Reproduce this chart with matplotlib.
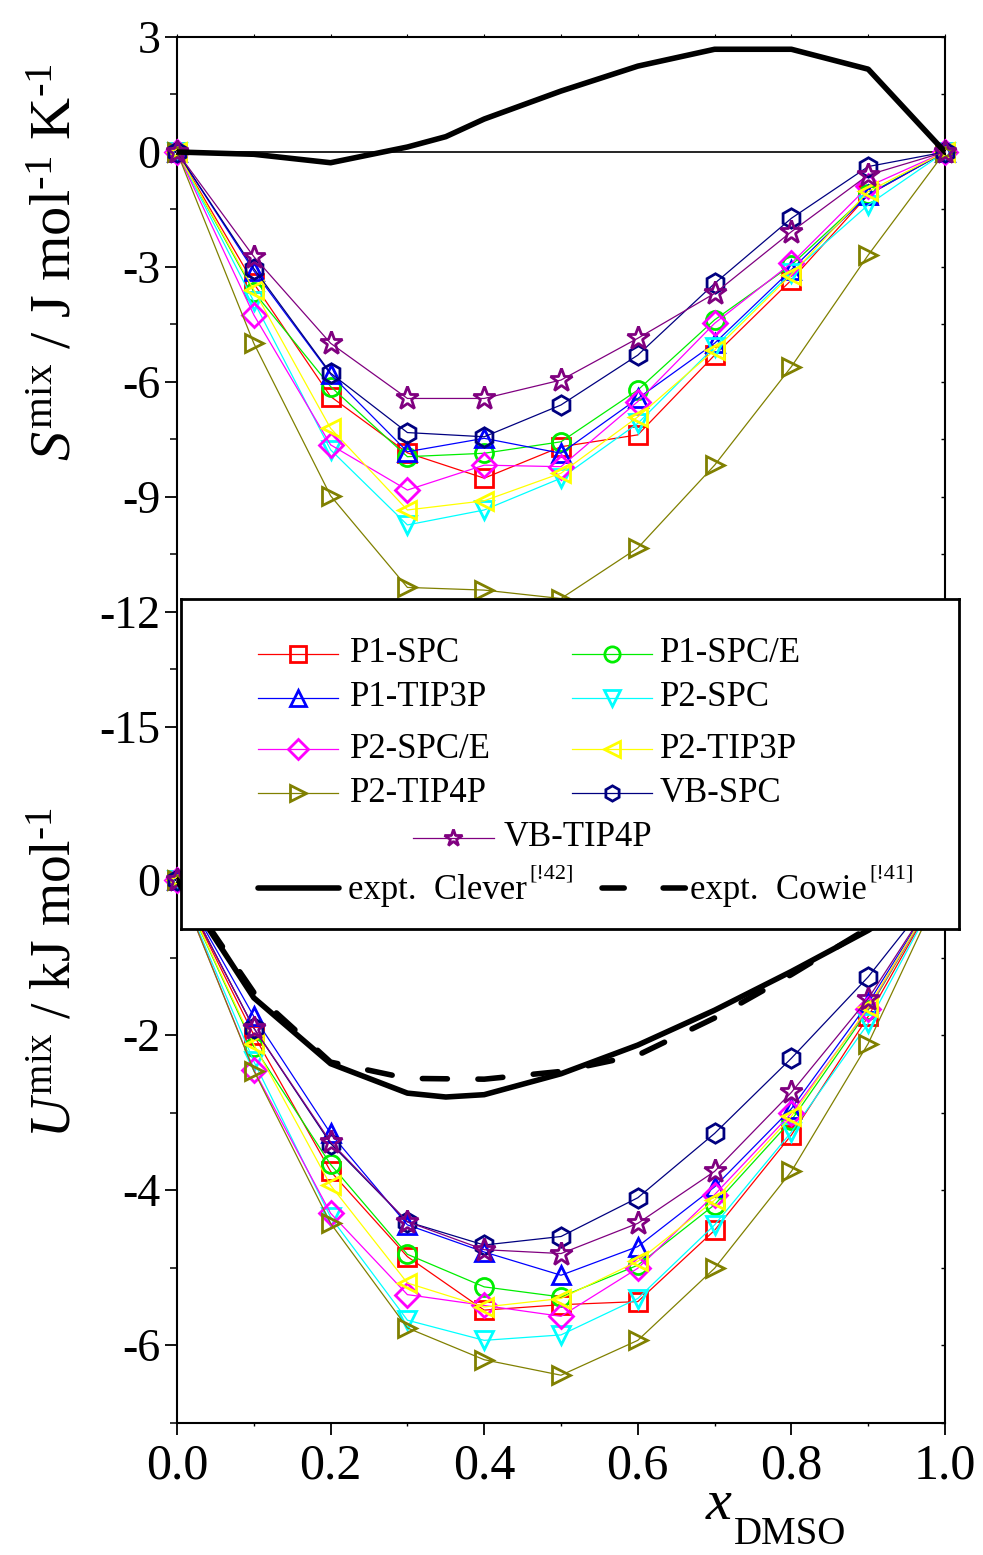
import matplotlib
matplotlib.use('Agg')
import matplotlib.pyplot as plt
from matplotlib.lines import Line2D

plt.rcParams['font.family'] = ['Liberation Serif', 'DejaVu Serif']
plt.rcParams['mathtext.fontset'] = 'custom'
plt.rcParams['mathtext.rm'] = 'Liberation Serif'
plt.rcParams['mathtext.it'] = 'Liberation Serif:italic'
plt.rcParams['mathtext.bf'] = 'Liberation Serif:bold'

# ---------------- data ----------------
x_dmso = [0.0, 0.1, 0.2, 0.3, 0.4, 0.5, 0.6, 0.7, 0.8, 0.9, 1.0]

series_names = ['P1-SPC', 'P1-SPC/E', 'P1-TIP3P', 'P2-SPC', 'P2-SPC/E',
                'P2-TIP3P', 'P2-TIP4P', 'VB-SPC', 'VB-TIP4P']
series_colors = ['#ff0000', '#00ee00', '#0000ff', '#00ffff', '#ff00ff',
                 '#ffff00', '#808000', '#000080', '#800080']
series_markers = ['s', 'o', '^', 'v', 'D', '<', '>', 'h', '*']

# S^mix / J mol^-1 K^-1
S_P1_SPC   = [0, -3.43, -6.38, -7.85, -8.51, -7.69, -7.38, -5.30, -3.34, -1.12, 0]
S_P1_SPCE  = [0, -3.65, -6.12, -7.95, -7.86, -7.56, -6.21, -4.38, -2.95, -1.10, 0]
S_P1_TIP3P = [0, -3.10, -5.80, -7.82, -7.47, -7.86, -6.43, -4.99, -3.07, -1.12, 0]
S_P2_SPC   = [0, -3.90, -7.77, -9.73, -9.34, -8.51, -7.08, -5.08, -3.15, -1.38, 0]
S_P2_SPCE  = [0, -4.25, -7.64, -8.82, -8.17, -8.21, -6.51, -4.47, -2.90, -0.90, 0]
S_P2_TIP3P = [0, -3.60, -7.21, -9.34, -9.10, -8.38, -6.91, -5.17, -3.20, -1.03, 0]
S_P2_TIP4P = [0, -4.99, -8.97, -11.36, -11.43, -11.65, -10.33, -8.17, -5.60, -2.69, 0]
S_VB_SPC   = [0, -3.04, -5.77, -7.32, -7.43, -6.60, -5.30, -3.43, -1.73, -0.38, 0]
S_VB_TIP4P = [0, -2.73, -4.99, -6.43, -6.43, -5.95, -4.86, -3.69, -2.08, -0.60, 0]

# U^mix / kJ mol^-1
U_P1_SPC   = [0, -2.00, -3.76, -4.86, -5.55, -5.48, -5.44, -4.52, -3.29, -1.76, 0]
U_P1_SPCE  = [0, -2.15, -3.67, -4.83, -5.25, -5.38, -4.97, -4.19, -3.10, -1.68, 0]
U_P1_TIP3P = [0, -1.76, -3.27, -4.45, -4.80, -5.10, -4.73, -3.96, -2.95, -1.59, 0]
U_P2_SPC   = [0, -2.34, -4.35, -5.68, -5.94, -5.87, -5.40, -4.45, -3.25, -1.85, 0]
U_P2_SPCE  = [0, -2.45, -4.30, -5.35, -5.49, -5.63, -5.01, -4.06, -3.01, -1.66, 0]
U_P2_TIP3P = [0, -2.12, -3.94, -5.20, -5.51, -5.40, -4.92, -4.13, -3.05, -1.64, 0]
U_P2_TIP4P = [0, -2.46, -4.43, -5.78, -6.19, -6.39, -5.94, -5.01, -3.76, -2.11, 0]
U_VB_SPC   = [0, -1.91, -3.40, -4.41, -4.71, -4.60, -4.10, -3.27, -2.30, -1.25, 0]
U_VB_TIP4P = [0, -1.91, -3.38, -4.41, -4.77, -4.82, -4.43, -3.76, -2.74, -1.53, 0]

S_series = [S_P1_SPC, S_P1_SPCE, S_P1_TIP3P, S_P2_SPC, S_P2_SPCE,
            S_P2_TIP3P, S_P2_TIP4P, S_VB_SPC, S_VB_TIP4P]
U_series = [U_P1_SPC, U_P1_SPCE, U_P1_TIP3P, U_P2_SPC, U_P2_SPCE,
            U_P2_TIP3P, U_P2_TIP4P, U_VB_SPC, U_VB_TIP4P]

# experiments
x_clever_S = [0.0, 0.1, 0.2, 0.3, 0.35, 0.4, 0.5, 0.6, 0.7, 0.8, 0.9, 1.0]
S_clever   = [0.0, -0.06, -0.28, 0.13, 0.40, 0.86, 1.59, 2.24, 2.68, 2.68, 2.16, 0.0]
x_clever_U = [0.0, 0.1, 0.2, 0.3, 0.35, 0.4, 0.5, 0.6, 0.7, 0.8, 0.9, 1.0]
U_clever   = [0.0, -1.52, -2.37, -2.75, -2.80, -2.77, -2.50, -2.13, -1.68, -1.18, -0.65, 0.0]
x_cowie_U  = [0.0, 0.1, 0.2, 0.3, 0.4, 0.5, 0.6, 0.7, 0.8, 0.9, 1.0]
U_cowie    = [0.0, -1.45, -2.35, -2.56, -2.57, -2.47, -2.26, -1.78, -1.22, -0.62, 0.0]

S_ticks = [3, 0, -3, -6, -9, -12, -15]
S_minor = [1.5, -1.5, -4.5, -7.5, -10.5, -13.5]
U_ticks = [0, -2, -4, -6]
U_minor = [-1, -3, -5, -7]
x_ticks = [0.0, 0.2, 0.4, 0.6, 0.8, 1.0]
x_minor = [0.1, 0.3, 0.5, 0.7, 0.9]

# ---------------- figure ----------------
W, H = 983, 1555
fig = plt.figure(figsize=(W / 100, H / 100), dpi=100)
L, R, T, B = 177, 945, 37, 1423
rect = [L / W, 1 - B / H, (R - L) / W, (B - T) / H]

ax1 = fig.add_axes(rect)
ax2 = fig.add_axes(rect, sharex=ax1)
ax2.patch.set_visible(False)

s_ppu = 38.33
ax1.set_ylim(3 - (B - T) / s_ppu, 3)
u_ppu = 77.5
ax2.set_ylim(-(B - 880) / u_ppu, (880 - T) / u_ppu)
ax1.set_xlim(0, 1)

ms = 13
for name, c, m, s in zip(series_names, series_colors, series_markers, S_series):
    msz = ms + 4 if m == '*' else (ms - 1 if m == 'D' else (ms + 1 if m == 'h' else ms))
    ax1.plot(x_dmso, s, color=c, lw=0.9, marker=m, ms=msz, mfc='none',
             mec=c, mew=2.0, clip_on=False, zorder=3)
for name, c, m, u in zip(series_names, series_colors, series_markers, U_series):
    msz = ms + 4 if m == '*' else (ms - 1 if m == 'D' else (ms + 1 if m == 'h' else ms))
    ax2.plot(x_dmso, u, color=c, lw=0.9, marker=m, ms=msz, mfc='none',
             mec=c, mew=2.0, clip_on=False, zorder=3)

ax1.axhline(0, color='black', lw=1.2, zorder=2)
ax1.plot(x_clever_S, S_clever, color='black', lw=4.0, solid_capstyle='round',
         solid_joinstyle='round', zorder=4)
ax2.plot(x_clever_U, U_clever, color='black', lw=4.0, solid_capstyle='round',
         solid_joinstyle='round', zorder=4)
ax2.plot(x_cowie_U, U_cowie, color='black', lw=4.0, dashes=(4.5, 5.5),
         dash_capstyle='round', zorder=4)

for sp in ax1.spines.values():
    sp.set_linewidth(1.5)
for sp in ax2.spines.values():
    sp.set_visible(False)

ax1.set_yticks(S_ticks)
ax1.set_yticks(S_minor, minor=True)
ax1.set_yticklabels([str(t) for t in S_ticks])
ax2.set_yticks(U_ticks)
ax2.set_yticks(U_minor, minor=True)
ax2.set_yticklabels([str(t) for t in U_ticks])
ax1.set_xticks(x_ticks)
ax1.set_xticks(x_minor, minor=True)
ax1.set_xticklabels(['%.1f' % t for t in x_ticks])

for ax in (ax1, ax2):
    ax.tick_params(axis='y', which='major', direction='out', length=9, width=1.3,
                   labelsize=33, pad=3, left=True, right=False)
    ax.tick_params(axis='y', which='minor', direction='out', length=5, width=1.1,
                   left=True, right=False)
ax1.tick_params(axis='x', which='major', direction='out', length=8.5, width=1.3,
                labelsize=36, pad=6, top=False)
ax1.tick_params(axis='x', which='minor', direction='out', length=2.5, width=1.0, top=False)
ax2.tick_params(axis='x', which='both', bottom=False, labelbottom=False)

r1 = ax1.secondary_yaxis('right')
r1.set_yticks(S_ticks + S_minor)
r1.tick_params(direction='in', length=3, width=1.0, labelright=False)
r1.spines['right'].set_visible(False)
r2 = ax2.secondary_yaxis('right')
r2.set_yticks(U_ticks + U_minor)
r2.tick_params(direction='in', length=3, width=1.0, labelright=False)
r2.spines['right'].set_visible(False)
t1 = ax1.secondary_xaxis('top')
t1.set_xticks(x_ticks + x_minor)
t1.tick_params(direction='out', length=2.5, width=0.8, labeltop=False)
t1.spines['top'].set_visible(False)

# axis labels (hyphen superscripts as in the original)
hy = '\u2010'
fig.text(57 / W, 1 - 262 / H,
         r'$S^{\rm mix}$ / J mol$^{' + hy + r'1}$ K$^{' + hy + r'1}$',
         rotation=90, ha='center', va='center', fontsize=42)
fig.text(57 / W, 1 - 973 / H, r'$U^{\rm mix}$ / kJ mol$^{' + hy + r'1}$',
         rotation=90, ha='center', va='center', fontsize=40)
fig.text(719 / W, 1 - 1505 / H, 'x', style='italic', ha='center', va='center',
         fontsize=42)
fig.text(734 / W, 1 - 1535 / H, 'DMSO', ha='left', va='center', fontsize=28)

# ---------------- legend box ----------------
lx0, ly0, lx1, ly1 = 181, 599, 959, 929
axl = fig.add_axes([lx0 / W, 1 - ly1 / H, (lx1 - lx0) / W, (ly1 - ly0) / H])
axl.set_zorder(10)
axl.set_xlim(lx0, lx1)
axl.set_ylim(ly1, ly0)
axl.set_xticks([])
axl.set_yticks([])
for sp in axl.spines.values():
    sp.set_linewidth(2)

row_y = [654, 698, 749, 793]
col_x = [(258, 338, 350), (572, 652, 660)]
leg_fs = 25
for i, (name, c, m) in enumerate(zip(series_names, series_colors, series_markers)):
    if i < 8:
        r, col = divmod(i, 2)
        y = row_y[r]
        xa, xb, xt = col_x[col]
    else:
        y = 838
        xa, xb, xt = 413, 494, 504
    msz = 13 if m == '*' else (10 if m == 'D' else 11)
    axl.add_line(Line2D([xa, xb], [y, y], color=c, lw=0.9))
    axl.add_line(Line2D([(xa + xb) / 2], [y], color=c, marker=m, ms=msz,
                        mfc='none', mec=c, mew=2.0))
    axl.text(xt, y, name, fontsize=leg_fs, va='center', ha='left')

yexp = 888
axl.add_line(Line2D([258, 339], [yexp, yexp], color='black', lw=4.0,
                    solid_capstyle='round'))
axl.text(348, yexp + 3, 'expt.  Clever', fontsize=leg_fs, va='center', ha='left')
axl.text(529, yexp - 14, '[!42]', fontsize=16, va='center', ha='left')
axl.add_line(Line2D([602, 686], [yexp, yexp], color='black', lw=4.0,
                    dashes=(4.0, 7.0), dash_capstyle='round'))
axl.text(690, yexp + 3, 'expt.  Cowie', fontsize=leg_fs, va='center', ha='left')
axl.text(869, yexp - 14, '[!41]', fontsize=16, va='center', ha='left')

fig.savefig('out.png', dpi=100)
